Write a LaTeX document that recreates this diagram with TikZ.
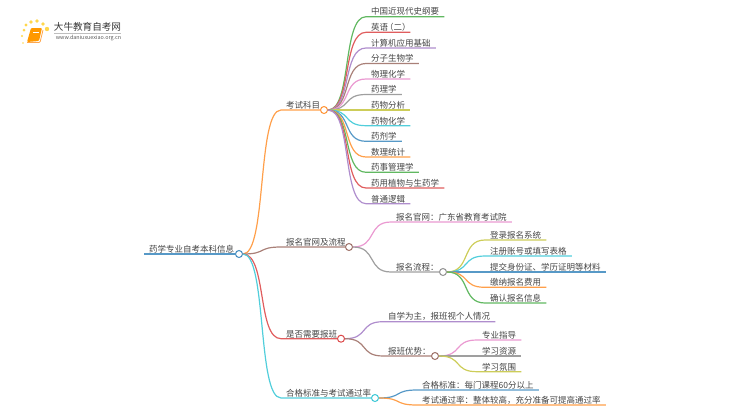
\documentclass[tikz,border=0pt]{standalone}
\usepackage{fontspec}
\setmainfont{Noto Sans CJK SC}
\usetikzlibrary{calc}
\definecolor{cblue}{HTML}{1F77B4}
\definecolor{corange}{HTML}{FF7F0E}
\definecolor{cgreen}{HTML}{2CA02C}
\definecolor{cred}{HTML}{D62728}
\definecolor{cpurple}{HTML}{9467BD}
\definecolor{cbrown}{HTML}{8C564B}
\definecolor{cpink}{HTML}{E377C2}
\definecolor{cgray}{HTML}{7F7F7F}
\definecolor{colive}{HTML}{BCBD22}
\definecolor{ccyan}{HTML}{17BECF}
\definecolor{inkgray}{HTML}{444444}
\tikzset{
  lbl/.style={anchor=south west,inner xsep=5pt,inner ysep=0.8pt,font=\fontsize{8.5}{9}\selectfont,text=inkgray},
  dot/.style={circle,draw=#1!85!white,fill=white,line width=1pt,minimum size=7pt,inner sep=0pt},
  edge/.style={draw=#1!75!white,line width=1.2pt},
}
% from a dot, through an S curve, along the underline of a label
\newcommand{\branch}[3]{\draw[edge=#1] (#2.east) .. controls +(24,0) and +(-24,0) .. (#3.south west) -- (#3.south east);}
\begin{document}
\begin{tikzpicture}[x=1pt,y=-1pt]
  \useasboundingbox (0,0) rectangle (750,410);
  % logo
  \foreach \px/\py/\pr in {22/36/1.1,24/30/1.5,26/25/1.7,31/22/1.8,37/21/1.9,43/24/1.9,47/29/2.2,23/43/0.9}
    \fill[orange!45!yellow!70!white] (\px,\py) circle (\pr);
  \fill[orange!80!yellow,rounded corners=1pt] (31,28) -- (42,28) -- (39,41) -- (27,42) -- cycle;
  \draw[orange!70!white,line width=0.8pt,rounded corners=1pt] (27,42.5) -- (40,42.5) -- (43,30);
  \draw[white,line width=0.5pt] (33,32) -- (39,32);
  \node[font=\fontsize{9.6}{10}\selectfont,text=black!80,inner sep=0pt] (brand) at (87.5,27) {大牛教育自考网};
  \draw[black!25,line width=0.4pt] (54,33.5) -- (121,33.5);
  \node[font=\fontsize{5.4}{6}\selectfont,text=black!65,inner sep=0pt] (site) at (88.5,38.5) {www.daniuxuexiao.org.cn};

  % root
  \node[lbl] (root) at (144,254) {药学专业自考本科信息};
  \node[dot=cblue] (rootdot) at (239,254) {};
  \draw[edge=cblue,line width=1.5pt] (root.south west) -- (rootdot.west);

  % first level
  \node[lbl] (kemu) at (281,110) {考试科目};
  \node[dot=corange] (kemudot) at (324,110) {};
  \node[lbl] (liucheng) at (281,247) {报名官网及流程};
  \node[dot=cbrown] (liuchengdot) at (349,247) {};
  \node[lbl] (baoban) at (281,338.7) {是否需要报班};
  \node[dot=cred] (baobandot) at (341,338.7) {};
  \node[lbl] (hege) at (281,398) {合格标准与考试通过率};
  \node[dot=ccyan] (hegedot) at (375,398) {};
  \draw[edge=corange] (rootdot.east) .. controls +(24,0) and +(-24,0) .. (kemu.south west) -- (kemudot.west);
  \draw[edge=cbrown] (rootdot.east) .. controls +(24,0) and +(-24,0) .. (liucheng.south west) -- (liuchengdot.west);
  \draw[edge=cred] (rootdot.east) .. controls +(24,0) and +(-24,0) .. (baoban.south west) -- (baobandot.west);
  \draw[edge=ccyan] (rootdot.east) .. controls +(24,0) and +(-24,0) .. (hege.south west) -- (hegedot.west);

  % subjects
  \node[lbl] (k1) at (366,16.7) {中国近现代史纲要};
  \node[lbl] (k2) at (366,32.3) {英语\kern-3pt（二）\kern-5.5pt};
  \node[lbl] (k3) at (366,48) {计算机应用基础};
  \node[lbl] (k4) at (366,63.5) {分子生物学};
  \node[lbl] (k5) at (366,79) {物理化学};
  \node[lbl] (k6) at (366,94.5) {药理学};
  \node[lbl] (k7) at (366,110) {药物分析};
  \node[lbl] (k8) at (366,125.7) {药物化学};
  \node[lbl] (k9) at (366,141.3) {药剂学};
  \node[lbl] (k10) at (366,157) {数理统计};
  \node[lbl] (k11) at (366,172.3) {药事管理学};
  \node[lbl] (k12) at (366,188) {药用植物与生药学};
  \node[lbl] (k13) at (366,203.7) {普通逻辑};
  \branch{cgreen}{kemudot}{k1}
  \branch{cred}{kemudot}{k2}
  \branch{cpurple}{kemudot}{k3}
  \branch{cbrown}{kemudot}{k4}
  \branch{cpink}{kemudot}{k5}
  \branch{cgray}{kemudot}{k6}
  \branch{colive}{kemudot}{k7}
  \branch{ccyan}{kemudot}{k8}
  \branch{cblue}{kemudot}{k9}
  \branch{corange}{kemudot}{k10}
  \branch{cgreen}{kemudot}{k11}
  \branch{cred}{kemudot}{k12}
  \branch{cpurple}{kemudot}{k13}

  % registration
  \node[lbl] (guanwang) at (391,222) {报名官网：广东省教育考试院};
  \node[lbl] (bmlc) at (391,272) {报名流程：};
  \node[dot=cgray] (bmlcdot) at (443,272) {};
  \branch{cpink}{liuchengdot}{guanwang}
  \draw[edge=cgray] (liuchengdot.east) .. controls +(24,0) and +(-24,0) .. (bmlc.south west) -- (bmlcdot.west);
  \node[lbl] (s1) at (485,240) {登录报名系统};
  \node[lbl] (s2) at (485,256) {注册账号或填写表格};
  \node[lbl] (s3) at (485,272) {提交身份证、学历证明等材料};
  \node[lbl] (s4) at (485,287.3) {缴纳报名费用};
  \node[lbl] (s5) at (485,303) {确认报名信息};
  \branch{colive}{bmlcdot}{s1}
  \branch{ccyan}{bmlcdot}{s2}
  \branch{cblue}{bmlcdot}{s3}
  \branch{corange}{bmlcdot}{s4}
  \branch{cgreen}{bmlcdot}{s5}

  % classes
  \node[lbl] (zixue) at (383,321.7) {自学为主，报班视个人情况};
  \node[lbl] (youshi) at (383,356) {报班优势：};
  \node[dot=cbrown] (youshidot) at (435,356) {};
  \branch{cpurple}{baobandot}{zixue}
  \draw[edge=cbrown] (baobandot.east) .. controls +(24,0) and +(-24,0) .. (youshi.south west) -- (youshidot.west);
  \node[lbl] (y1) at (477,340) {专业指导};
  \node[lbl] (y2) at (477,356) {学习资源};
  \node[lbl] (y3) at (477,371.7) {学习氛围};
  \branch{cpink}{youshidot}{y1}
  \branch{cgray}{youshidot}{y2}
  \branch{colive}{youshidot}{y3}

  % pass rate
  \node[lbl] (biaozhun) at (417,390) {合格标准：每门课程60分以上};
  \node[lbl] (tongguo) at (417,405) {考试通过率：整体较高，充分准备可提高通过率};
  \branch{cblue}{hegedot}{biaozhun}
  \branch{corange}{hegedot}{tongguo}
\end{tikzpicture}
\end{document}
